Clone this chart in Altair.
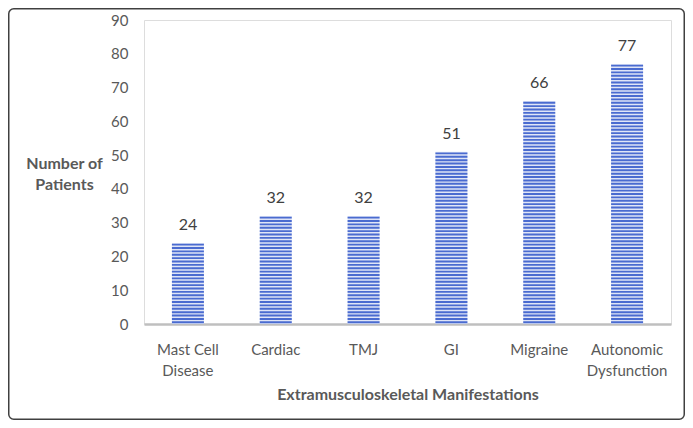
import altair as alt
import pandas as pd

categories = ["Mast Cell\nDisease", "Cardiac", "TMJ", "GI", "Migraine", "Autonomic\nDysfunction"]
patients = [24, 32, 32, 51, 66, 77]
y_ticks = [0, 10, 20, 30, 40, 50, 60, 70, 80, 90]

df = pd.DataFrame({"cat": categories, "n": patients})

W, H = 527, 304
FONT = "Lato"
GRAY = "#595959"

x_axis = alt.Axis(
    title="Extramusculoskeletal Manifestations",
    labelAngle=0,
    labelExpr="split(datum.label, '\\n')",
    labelFont=FONT,
    labelFontSize=15,
    labelColor=GRAY,
    labelLineHeight=21,
    labelPadding=18,
    labelBaseline="top",
    domain=True,
    domainColor="#bfbfbf",
    domainWidth=2.5,
    ticks=False,
    titleFont=FONT,
    titleFontSize=16,
    titleFontWeight="bold",
    titleColor=GRAY,
    titlePadding=8,
)

y_axis = alt.Axis(
    values=y_ticks,
    labelOverlap=False,
    labelFlush=False,
    title=["Number of", "Patients"],
    titleAngle=0,
    titleAlign="center",
    titleBaseline="top",
    titleX=-80,
    titleY=135,
    titleLineHeight=21,
    titleFont=FONT,
    titleFontSize=16,
    titleFontWeight="bold",
    titleColor=GRAY,
    labelFont=FONT,
    labelFontSize=15,
    labelColor=GRAY,
    labelPadding=16,
    domain=False,
    ticks=False,
    grid=False,
)

x_scale = alt.Scale(paddingInner=0, paddingOuter=0)
y_scale = alt.Scale(domain=[0, 90], nice=False)

bars = alt.Chart(df).mark_bar(size=32, color="#dfe5f7").encode(
    x=alt.X("cat:N", sort=categories, scale=x_scale, axis=x_axis),
    y=alt.Y("n:Q", scale=y_scale, axis=y_axis),
)

stripes = (
    alt.Chart(df)
    .transform_calculate(s="sequence(0.5, datum.n, 1)")
    .transform_flatten(["s"])
    .mark_tick(orient="horizontal", size=32, thickness=1.9, color="#4a6bd0", opacity=1)
    .encode(
        x=alt.X("cat:N", sort=categories, scale=x_scale, axis=x_axis),
        y=alt.Y("s:Q", scale=y_scale, axis=y_axis),
    )
)

labels = alt.Chart(df).mark_text(
    font=FONT, fontSize=16, color="#404040", baseline="bottom", dy=-10
).encode(
    x=alt.X("cat:N", sort=categories, scale=x_scale, axis=x_axis),
    y=alt.Y("n:Q", scale=y_scale, axis=y_axis),
    text="n:Q",
)

border = alt.Chart(alt.Data(values=[{"a": 1}])).mark_rect(
    fill="transparent", stroke="#404040", strokeWidth=1.5, cornerRadius=5
).encode(
    x=alt.value(-135.25),
    x2=alt.value(W + 13.25),
    y=alt.value(-11.25),
    y2=alt.value(H + 95.25),
)

chart = (
    alt.layer(bars, stripes, labels, border)
    .properties(
        width=W,
        height=H,
        autosize=alt.AutoSizeParams(type="none"),
        padding={"left": 136, "top": 12, "right": 14, "bottom": 96},
    )
    .configure_view(strokeWidth=0, stroke="transparent")
    .configure(background="white")
)

chart.save("out.html", embed_options={"renderer": "svg", "actions": False})
